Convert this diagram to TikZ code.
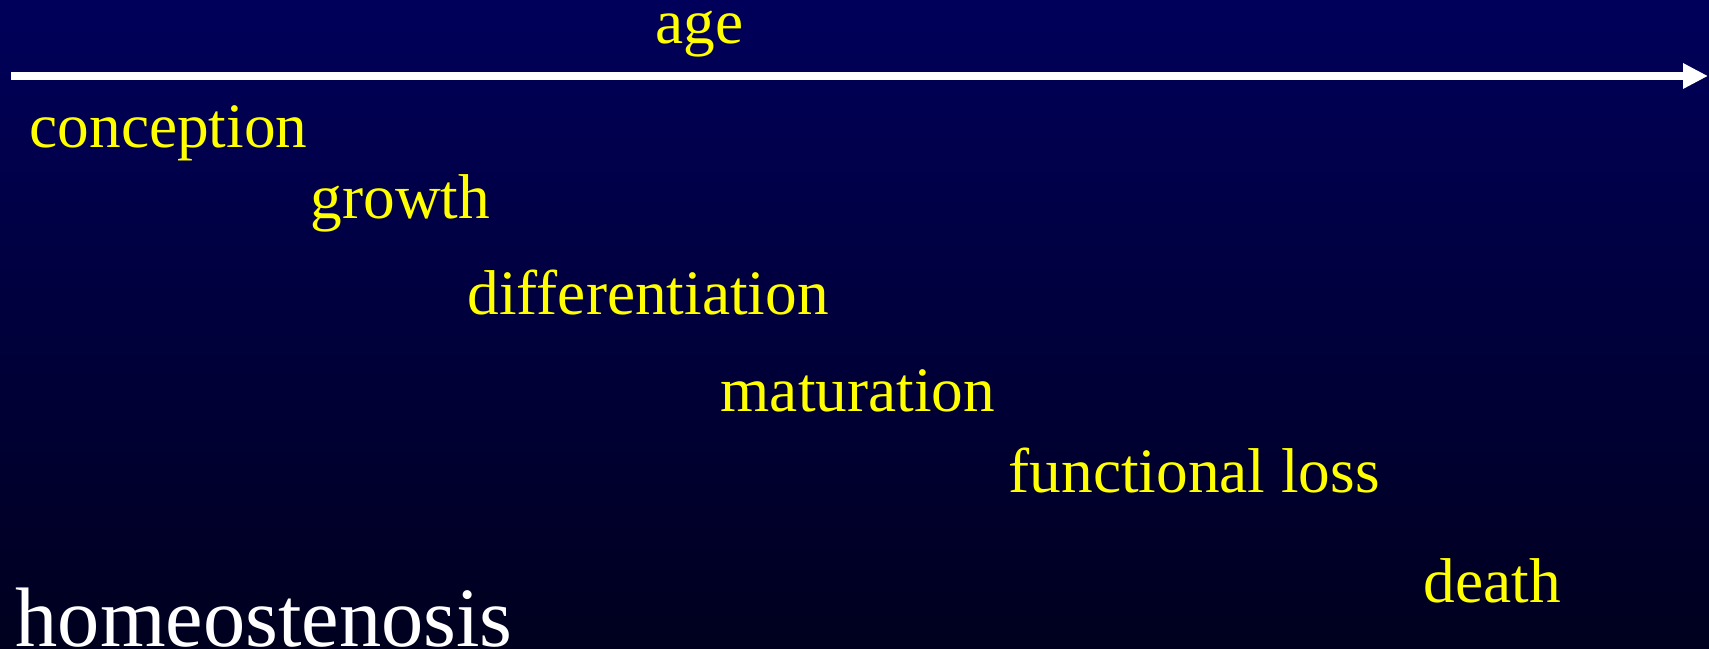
\documentclass[tikz,border=0pt]{standalone}
\usepackage{fontspec}
\setmainfont{Liberation Serif}
\usetikzlibrary{arrows.meta}
\definecolor{bgnavy}{RGB}{0,0,102}
\definecolor{txtyellow}{RGB}{255,255,0}
\pgfdeclareverticalshading{slidebg}{100bp}{color(0bp)=(black); color(84.6bp)=(bgnavy); color(100bp)=(bgnavy)}
\tikzset{
  label18/.style={anchor=base west, inner sep=0pt, text=txtyellow, font=\fontsize{18}{20}\selectfont},
  bigword/.style={anchor=base west, inner sep=0pt, text=white, font=\fontsize{24}{28}\selectfont},
  agearrow/.style={draw=white, line width=0.08cm, -{Triangle[length=0.25cm,width=0.24cm]}}
}
\begin{document}
\begin{tikzpicture}[x=0.01cm,y=-0.01cm]
\useasboundingbox (0,0) rectangle (1709,649);
\shade[shading=slidebg] (0,0) rectangle (1709,649);
\coordinate (start) at (11,76);
\coordinate (end) at (1708,76);
\draw[agearrow] (start) -- (end);
\node[label18] (age) at (655,44) {age};
\node[label18] (conception) at (29,148) {conception};
\node[label18] (growth) at (310,219) {growth};
\node[label18] (differentiation) at (467,315) {differentiation};
\node[label18] (maturation) at (720,412) {maturation};
\node[label18] (functional) at (1008,492) {functional loss};
\node[label18] (death) at (1423,603) {death};
\node[bigword] (homeo) at (15,646) {homeostenosis};
\end{tikzpicture}
\end{document}
